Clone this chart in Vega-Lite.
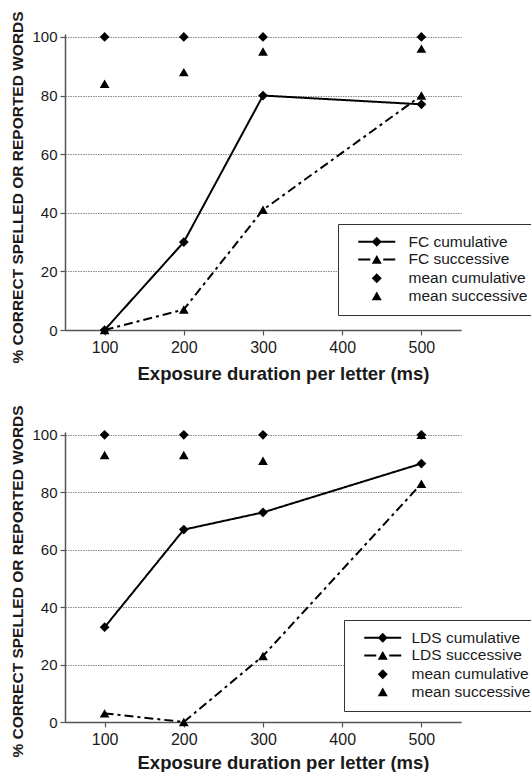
{
  "$schema": "https://vega.github.io/schema/vega-lite/v6.json",
  "background": "white",
  "padding": {"left": 10, "top": 10, "right": 0, "bottom": 0},
  "autosize": {"type": "pad"},
  "bounds": "flush",
  "spacing": 102,
  "config": {
    "view": {"stroke": null},
    "font": "Liberation Sans",
    "axis": {
      "domainColor": "#555",
      "domainWidth": 1.5,
      "tickColor": "#555",
      "tickWidth": 1.2,
      "tickSize": 5,
      "labelColor": "#1a1a1a",
      "titleColor": "#1a1a1a",
      "labelFont": "Liberation Sans",
      "titleFont": "Liberation Sans",
      "titleFontWeight": "bold"
    },
    "legend": {
      "labelFont": "Liberation Sans",
      "labelFontSize": 15.5,
      "labelColor": "#1a1a1a"
    }
  },
  "datasets": {
    "fc": [
      {"series": "FC cumulative", "duration": 100, "pct": 0},
      {"series": "FC cumulative", "duration": 200, "pct": 30},
      {"series": "FC cumulative", "duration": 300, "pct": 80},
      {"series": "FC cumulative", "duration": 500, "pct": 77},
      {"series": "FC successive", "duration": 100, "pct": 0},
      {"series": "FC successive", "duration": 200, "pct": 7},
      {"series": "FC successive", "duration": 300, "pct": 41},
      {"series": "FC successive", "duration": 500, "pct": 80},
      {"series": "mean cumulative", "duration": 100, "pct": 100},
      {"series": "mean cumulative", "duration": 200, "pct": 100},
      {"series": "mean cumulative", "duration": 300, "pct": 100},
      {"series": "mean cumulative", "duration": 500, "pct": 100},
      {"series": "mean successive", "duration": 100, "pct": 84},
      {"series": "mean successive", "duration": 200, "pct": 88},
      {"series": "mean successive", "duration": 300, "pct": 95},
      {"series": "mean successive", "duration": 500, "pct": 96}
    ],
    "lds": [
      {"series": "LDS cumulative", "duration": 100, "pct": 33},
      {"series": "LDS cumulative", "duration": 200, "pct": 67},
      {"series": "LDS cumulative", "duration": 300, "pct": 73},
      {"series": "LDS cumulative", "duration": 500, "pct": 90},
      {"series": "LDS successive", "duration": 100, "pct": 3},
      {"series": "LDS successive", "duration": 200, "pct": 0},
      {"series": "LDS successive", "duration": 300, "pct": 23},
      {"series": "LDS successive", "duration": 500, "pct": 83},
      {"series": "mean cumulative", "duration": 100, "pct": 100},
      {"series": "mean cumulative", "duration": 200, "pct": 100},
      {"series": "mean cumulative", "duration": 300, "pct": 100},
      {"series": "mean cumulative", "duration": 500, "pct": 100},
      {"series": "mean successive", "duration": 100, "pct": 93},
      {"series": "mean successive", "duration": 200, "pct": 93},
      {"series": "mean successive", "duration": 300, "pct": 91},
      {"series": "mean successive", "duration": 500, "pct": 100}
    ]
  },
  "resolve": {
    "scale": {"shape": "independent", "strokeDash": "independent", "x": "independent", "y": "independent"},
    "legend": {"shape": "independent"}
  },
  "vconcat": [
    {
      "width": 396,
      "height": 296,
      "data": {"name": "fc"},
      "resolve": {"scale": {"shape": "independent"}, "legend": {"shape": "independent"}},
      "encoding": {
        "x": {
          "field": "duration", "type": "quantitative",
          "scale": {"domain": [50, 550], "nice": false, "zero": false},
          "axis": {
            "values": [100, 200, 300, 400, 500], "grid": false,
            "labelFontSize": 16, "labelPadding": 4,
            "title": "Exposure duration per letter (ms)", "titleFontSize": 18.5,
            "titleX": 218, "titleY": 49, "titleBaseline": "alphabetic", "titleAlign": "center"
          }
        },
        "y": {
          "field": "pct", "type": "quantitative",
          "scale": {"domain": [0, 101], "nice": false},
          "axis": {
            "values": [0, 20, 40, 60, 80, 100], "grid": true,
            "gridColor": "#888", "gridDash": [1.5, 1], "gridWidth": 1,
            "labelFontSize": 15, "labelPadding": 3,
            "title": "% CORRECT SPELLED OR REPORTED WORDS", "titleFontSize": 15.5,
            "titleX": -48, "titleY": 153, "titleBaseline": "middle", "titleAlign": "center"
          }
        }
      },
      "layer": [
        {
          "transform": [{"filter": {"field": "series", "oneOf": ["FC cumulative", "FC successive"]}}],
          "mark": {"type": "line", "color": "black", "strokeWidth": 2},
          "encoding": {
            "strokeDash": {
              "field": "series", "type": "nominal",
              "scale": {"domain": ["FC cumulative", "FC successive"], "range": [[1, 0], [9, 4, 3, 4]]},
              "legend": null
            }
          }
        },
        {
          "mark": {"type": "point", "filled": true, "color": "black", "opacity": 1, "size": 95},
          "encoding": {
            "shape": {
              "field": "series", "type": "nominal",
              "scale": {
                "domain": ["FC cumulative", "FC successive", "mean cumulative", "mean successive"],
                "range": ["diamond", "triangle-up", "diamond", "triangle-up"]
              },
              "legend": null
            }
          }
        },
        {
          "mark": {"type": "point", "filled": true, "color": "black", "opacity": 0},
          "encoding": {
            "shape": {
              "field": "series", "type": "nominal",
              "scale": {
                "domain": ["FC cumulative", "FC successive", "mean cumulative", "mean successive"],
                "range": [
                  "M-3.7,-0.2H3.7V0.2H-3.7ZM-1,0L0,-1L1,0L0,1Z",
                  "M-3.7,-0.2H-1.3V0.2H-3.7ZM1.3,-0.2H3.7V0.2H1.3ZM0,-0.866L1,0.866L-1,0.866Z",
                  "diamond",
                  "triangle-up"
                ]
              },
              "legend": {
                "title": null, "orient": "none", "legendX": 273, "legendY": 190,
                "strokeColor": "#333", "fillColor": "white", "padding": 10,
                "symbolSize": 100, "symbolOffset": 21, "labelOffset": 24, "rowPadding": 0.7,
                "symbolOpacity": 1, "symbolFillColor": "black"
              }
            }
          }
        }
      ]
    },
    {
      "width": 396,
      "height": 290,
      "data": {"name": "lds"},
      "resolve": {"scale": {"shape": "independent"}, "legend": {"shape": "independent"}},
      "encoding": {
        "x": {
          "field": "duration", "type": "quantitative",
          "scale": {"domain": [50, 550], "nice": false, "zero": false},
          "axis": {
            "values": [100, 200, 300, 400, 500], "grid": false,
            "labelFontSize": 16, "labelPadding": 4,
            "title": "Exposure duration per letter (ms)", "titleFontSize": 18.5,
            "titleX": 218, "titleY": 46, "titleBaseline": "alphabetic", "titleAlign": "center"
          }
        },
        "y": {
          "field": "pct", "type": "quantitative",
          "scale": {"domain": [0, 101], "nice": false},
          "axis": {
            "values": [0, 20, 40, 60, 80, 100], "grid": true,
            "gridColor": "#888", "gridDash": [1.5, 1], "gridWidth": 1,
            "labelFontSize": 15, "labelPadding": 3,
            "title": "% CORRECT SPELLED OR REPORTED WORDS", "titleFontSize": 15.5,
            "titleX": -48, "titleY": 149, "titleBaseline": "middle", "titleAlign": "center"
          }
        }
      },
      "layer": [
        {
          "transform": [{"filter": {"field": "series", "oneOf": ["LDS cumulative", "LDS successive"]}}],
          "mark": {"type": "line", "color": "black", "strokeWidth": 2},
          "encoding": {
            "strokeDash": {
              "field": "series", "type": "nominal",
              "scale": {"domain": ["LDS cumulative", "LDS successive"], "range": [[1, 0], [9, 4, 3, 4]]},
              "legend": null
            }
          }
        },
        {
          "mark": {"type": "point", "filled": true, "color": "black", "opacity": 1, "size": 95},
          "encoding": {
            "shape": {
              "field": "series", "type": "nominal",
              "scale": {
                "domain": ["LDS cumulative", "LDS successive", "mean cumulative", "mean successive"],
                "range": ["diamond", "triangle-up", "diamond", "triangle-up"]
              },
              "legend": null
            }
          }
        },
        {
          "mark": {"type": "point", "filled": true, "color": "black", "opacity": 0},
          "encoding": {
            "shape": {
              "field": "series", "type": "nominal",
              "scale": {
                "domain": ["LDS cumulative", "LDS successive", "mean cumulative", "mean successive"],
                "range": [
                  "M-3.7,-0.2H3.7V0.2H-3.7ZM-1,0L0,-1L1,0L0,1Z",
                  "M-3.7,-0.2H-1.3V0.2H-3.7ZM1.3,-0.2H3.7V0.2H1.3ZM0,-0.866L1,0.866L-1,0.866Z",
                  "diamond",
                  "triangle-up"
                ]
              },
              "legend": {
                "title": null, "orient": "none", "legendX": 279, "legendY": 188,
                "strokeColor": "#333", "fillColor": "white", "padding": 10,
                "symbolSize": 100, "symbolOffset": 21, "labelOffset": 21, "rowPadding": 0.7,
                "symbolOpacity": 1, "symbolFillColor": "black"
              }
            }
          }
        }
      ]
    }
  ]
}
